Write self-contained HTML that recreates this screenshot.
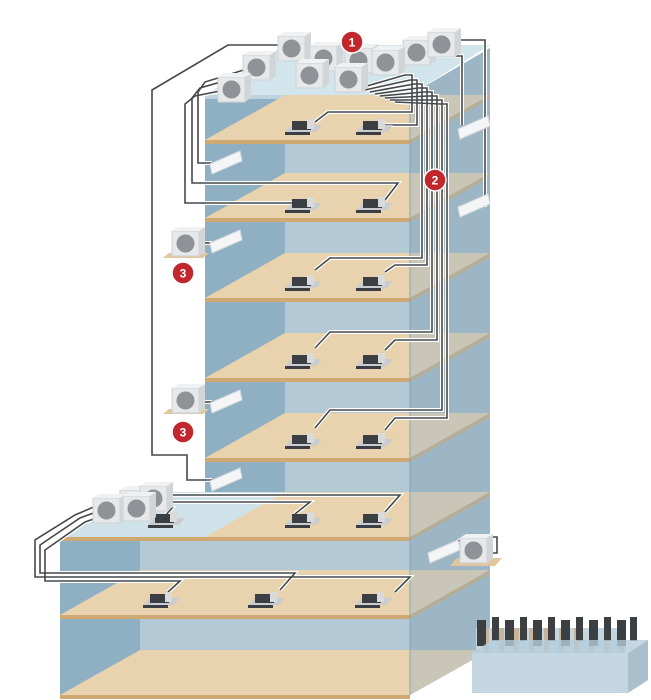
<!DOCTYPE html>
<html><head><meta charset="utf-8"><style>html,body{margin:0;padding:0;background:#fff}svg{display:block}</style></head>
<body>
<svg width="651" height="700" viewBox="0 0 651 700" xmlns="http://www.w3.org/2000/svg" font-family="Liberation Sans, sans-serif">
<defs>
<g id="iu"><polygon points="-7,10 24,10 30,3 0,3" fill="#c9cdd0"/><rect x="0" y="-1" width="19" height="9" fill="#3b3e42"/><rect x="15" y="-3" width="7" height="10" fill="#d8dadc"/><rect x="-7" y="10" width="25" height="3" fill="#3b3e42"/></g>
<g id="ou"><rect x="0" y="0" width="27" height="25" fill="#e6e8ea" stroke="#cfd2d5"/><polygon points="27,0 33,-4 33,21 27,25" fill="#d2d5d8"/><polygon points="0,0 6,-4 33,-4 27,0" fill="#f0f1f2"/><circle cx="13.5" cy="12.5" r="9" fill="#8f9398"/></g>
<g id="wu"><polygon points="0,9 30,-4 32,6 2,19" fill="#f4f5f6" stroke="#d6d9dc"/></g>
<g id="pipes" fill="none">
<path d="M290,45 L228,45 L152,90 L152,455 L187,455 L187,480 L212,480"/>
<path d="M250,68 L205,82 L198,92 L198,163 L212,163"/>
<path d="M245,75 L200,88 L192,98 L192,183 L398,183 L385,200"/>
<path d="M235,88 L195,96 L185,104 L185,203 L305,203"/>
<path d="M360,88 L405,75 L412,75 L412,112 L328,112 L315,122"/>
<path d="M365,90 L410,80 L417,80 L417,125 L385,125"/>
<path d="M370,92 L414,84 L422,84 L422,258 L330,258 L315,270"/>
<path d="M375,94 L418,88 L427,88 L427,265 L395,265 L385,272"/>
<path d="M380,96 L424,92 L432,92 L432,332 L330,332 L315,348"/>
<path d="M385,98 L428,96 L437,96 L437,340 L395,340 L385,350"/>
<path d="M390,100 L434,100 L442,100 L442,410 L330,410 L315,428"/>
<path d="M395,102 L440,104 L447,104 L447,418 L395,418 L385,430"/>
<path d="M440,40 L485,40 L485,205 L470,205"/>
<path d="M412,56 L462,56 L462,125"/>
<path d="M110,500 L75,515 L35,540 L35,577 L410,577 L395,592"/>
<path d="M115,505 L80,518 L40,545 L40,573 L295,573 L280,590"/>
<path d="M120,510 L85,522 L45,550 L45,581 L180,581 L168,592"/>
<path d="M155,495 L400,495 L385,512"/>
<path d="M150,502 L310,502 L295,514"/>
<path d="M145,508 L172,508 L165,516"/>
<path d="M448,548 L465,537 L497,537 L497,553 L485,553"/>
<path d="M197,243 L212,243"/><path d="M197,402 L212,402"/>
</g>
</defs>
<rect width="651" height="700" fill="#fff"/>
<rect x="205" y="95" width="205" height="442" fill="#b3cad6"/>
<rect x="205" y="95" width="80" height="442" fill="#8fb0c3"/>
<rect x="60" y="537" width="350" height="158" fill="#b3cad6"/>
<rect x="60" y="537" width="80" height="158" fill="#8fb0c3"/>
<polygon points="410,95 490,48 490,650 410,695" fill="#9db7c7"/>
<polygon points="205,95 410,95 490,45 285,45" fill="#d3e5ec"/>
<rect x="205" y="95" width="205" height="4" fill="#bcd3de"/>
<g>
<polygon points="205,140 410,140 490,95 285,95" fill="#e9d3ae"/><rect x="205" y="140" width="205" height="4" fill="#cfa872"/><polygon points="410,140 490,95 490,99 410,144" fill="#c9a877"/>
<polygon points="205,218 410,218 490,173 285,173" fill="#e9d3ae"/><rect x="205" y="218" width="205" height="4" fill="#cfa872"/><polygon points="410,218 490,173 490,177 410,222" fill="#c9a877"/>
<polygon points="205,298 410,298 490,253 285,253" fill="#e9d3ae"/><rect x="205" y="298" width="205" height="4" fill="#cfa872"/><polygon points="410,298 490,253 490,257 410,302" fill="#c9a877"/>
<polygon points="205,378 410,378 490,333 285,333" fill="#e9d3ae"/><rect x="205" y="378" width="205" height="4" fill="#cfa872"/><polygon points="410,378 490,333 490,337 410,382" fill="#c9a877"/>
<polygon points="205,458 410,458 490,413 285,413" fill="#e9d3ae"/><rect x="205" y="458" width="205" height="4" fill="#cfa872"/><polygon points="410,458 490,413 490,417 410,462" fill="#c9a877"/>
<polygon points="60,537 410,537 490,492 140,492" fill="#cfe2ea"/>
<polygon points="205,537 410,537 490,492 285,492" fill="#e9d3ae"/>
<rect x="205" y="462" width="80" height="30" fill="#8fb0c3"/>
<rect x="60" y="537" width="350" height="4" fill="#cfa872"/><polygon points="410,537 490,492 490,496 410,541" fill="#c9a877"/>
<polygon points="60,615 410,615 490,570 140,570" fill="#e9d3ae"/><rect x="60" y="615" width="350" height="4" fill="#cfa872"/><polygon points="410,615 490,570 490,574 410,619" fill="#c9a877"/>
<polygon points="60,695 410,695 490,650 140,650" fill="#e9d3ae"/><rect x="60" y="695" width="350" height="4" fill="#cfa872"/>
</g>
<polygon points="410,95 490,48 490,650 410,695" fill="#9ab4c5" opacity="0.4"/>
<line x1="410" y1="95" x2="410" y2="695" stroke="#8aa4b3" stroke-width="1"/>
<polygon points="163,258 203,258 209,253 169,253" fill="#e1c79c"/>
<polygon points="163,414 203,414 209,409 169,409" fill="#e1c79c"/>
<polygon points="450,566 495,566 502,558 457,558" fill="#e1c79c"/>
<use href="#pipes" stroke="#ffffff" stroke-width="4"/>
<use href="#pipes" stroke="#45484b" stroke-width="1.6"/>
<use href="#iu" x="292" y="122"/><use href="#iu" x="363" y="122"/>
<use href="#iu" x="292" y="200"/><use href="#iu" x="363" y="200"/>
<use href="#iu" x="292" y="278"/><use href="#iu" x="363" y="278"/>
<use href="#iu" x="292" y="356"/><use href="#iu" x="363" y="356"/>
<use href="#iu" x="292" y="436"/><use href="#iu" x="363" y="436"/>
<use href="#iu" x="155" y="515"/><use href="#iu" x="292" y="515"/><use href="#iu" x="363" y="515"/>
<use href="#iu" x="150" y="595"/><use href="#iu" x="255" y="595"/><use href="#iu" x="362" y="595"/>
<use href="#wu" x="210" y="155"/><use href="#wu" x="210" y="234"/>
<use href="#wu" x="210" y="394"/><use href="#wu" x="210" y="472"/>
<use href="#wu" x="458" y="120"/><use href="#wu" x="458" y="198"/><use href="#wu" x="428" y="544"/>
<use href="#ou" x="278" y="36"/><use href="#ou" x="403" y="40"/><use href="#ou" x="428" y="32"/>
<use href="#ou" x="243" y="55"/><use href="#ou" x="310" y="46"/><use href="#ou" x="345" y="48"/><use href="#ou" x="372" y="50"/>
<use href="#ou" x="296" y="63"/><use href="#ou" x="335" y="67"/><use href="#ou" x="218" y="77"/>
<use href="#ou" x="172" y="231"/><use href="#ou" x="172" y="388"/><use href="#ou" x="460" y="538"/>
<use href="#ou" x="120" y="490"/><use href="#ou" x="140" y="486"/><use href="#ou" x="93" y="498"/><use href="#ou" x="123" y="496"/>
<g>
<rect x="476" y="628" width="150" height="25" fill="#c3d6e2"/>
<g fill="#c9b39b"><rect x="484" y="628" width="5" height="25"/><rect x="499" y="628" width="5" height="25"/><rect x="514" y="628" width="5" height="25"/><rect x="529" y="628" width="5" height="25"/><rect x="544" y="628" width="5" height="25"/><rect x="559" y="628" width="5" height="25"/><rect x="574" y="628" width="5" height="25"/><rect x="589" y="628" width="5" height="25"/><rect x="604" y="628" width="5" height="25"/><rect x="619" y="628" width="5" height="25"/></g>
<g fill="#3d4043"><rect x="477" y="620" width="9" height="26"/><rect x="492" y="617" width="7" height="24"/><rect x="505" y="620" width="9" height="26"/><rect x="520" y="617" width="7" height="24"/><rect x="533" y="620" width="9" height="26"/><rect x="548" y="617" width="7" height="24"/><rect x="561" y="620" width="9" height="26"/><rect x="576" y="617" width="7" height="24"/><rect x="589" y="620" width="9" height="26"/><rect x="604" y="617" width="7" height="24"/><rect x="617" y="620" width="9" height="26"/><rect x="630" y="617" width="7" height="24"/></g>
<polygon points="472,653 628,653 648,640 492,640" fill="#b5cddc" opacity="0.8"/>
<rect x="472" y="653" width="156" height="40" fill="#c3d6e2"/>
<polygon points="628,653 648,640 648,680 628,693" fill="#a9bfcc"/>
</g>
<g font-weight="bold" font-size="12" fill="#fff" text-anchor="middle">
<circle cx="352" cy="42" r="11" fill="#c1272d" stroke="#fff" stroke-width="1.5"/><text x="352" y="46.5">1</text>
<circle cx="435" cy="180" r="11" fill="#c1272d" stroke="#fff" stroke-width="1.5"/><text x="435" y="184.5">2</text>
<circle cx="183" cy="273" r="11" fill="#c1272d" stroke="#fff" stroke-width="1.5"/><text x="183" y="277.5">3</text>
<circle cx="183" cy="432" r="11" fill="#c1272d" stroke="#fff" stroke-width="1.5"/><text x="183" y="436.5">3</text>
</g>
</svg>
</body></html>
